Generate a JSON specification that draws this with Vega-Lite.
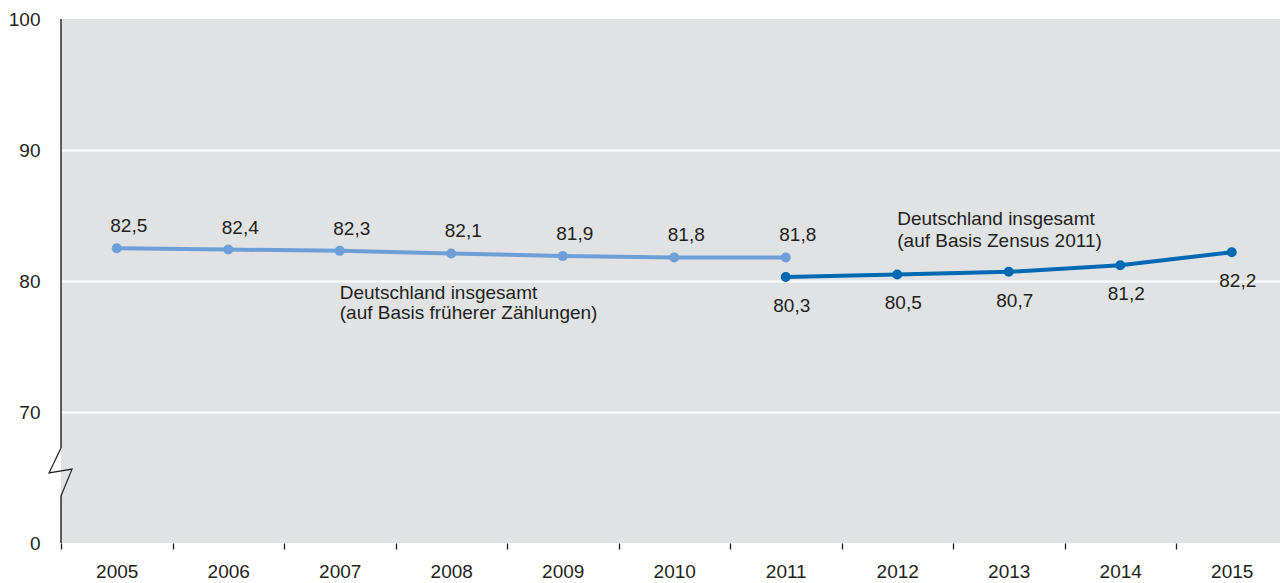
{
  "$schema": "https://vega.github.io/schema/vega-lite/v6.json",
  "width": 1219,
  "height": 524,
  "autosize": {"type": "none"},
  "padding": {"left": 61, "top": 19, "right": 0, "bottom": 40},
  "background": "white",
  "config": {
    "font": "Liberation Sans",
    "view": {"fill": "#e1e2e4", "stroke": null},
    "locale": {"number": {"decimal": ",", "thousands": ".", "grouping": [3], "currency": ["", " €"]}}
  },
  "datasets": {
    "pop": [
      {"year": "2005", "value": 82.5, "series": "frueher"},
      {"year": "2006", "value": 82.4, "series": "frueher"},
      {"year": "2007", "value": 82.3, "series": "frueher"},
      {"year": "2008", "value": 82.1, "series": "frueher"},
      {"year": "2009", "value": 81.9, "series": "frueher"},
      {"year": "2010", "value": 81.8, "series": "frueher"},
      {"year": "2011", "value": 81.8, "series": "frueher"},
      {"year": "2011", "value": 80.3, "series": "zensus"},
      {"year": "2012", "value": 80.5, "series": "zensus"},
      {"year": "2013", "value": 80.7, "series": "zensus"},
      {"year": "2014", "value": 81.2, "series": "zensus"},
      {"year": "2015", "value": 82.2, "series": "zensus"}
    ],
    "axisline": [
      {"year": "2005", "from": 60, "to": 63.6},
      {"year": "2005", "from": 67.25, "to": 100}
    ],
    "brk": [{"year": "2005", "value": 65.42}],
    "notes": [
      {"year": "2007", "value": 79.08, "text": "Deutschland insgesamt"},
      {"year": "2007", "value": 77.55, "text": "(auf Basis früherer Zählungen)"},
      {"year": "2012", "value": 84.73, "text": "Deutschland insgesamt"},
      {"year": "2012", "value": 83.05, "text": "(auf Basis Zensus 2011)"}
    ]
  },
  "encoding": {
    "x": {
      "field": "year",
      "type": "ordinal",
      "scale": {"domain": ["2005","2006","2007","2008","2009","2010","2011","2012","2013","2014","2015"], "range": [0, 1226.5], "paddingInner": 0, "paddingOuter": 0},
      "axis": {
        "title": null,
        "labelAngle": 0,
        "domain": false,
        "ticks": true,
        "tickBand": "extent",
        "tickSize": 6,
        "tickColor": "#231f20",
        "tickWidth": 1.3,
        "labelFontSize": 19,
        "labelColor": "#231f20",
        "labelPadding": 13,
        "grid": false
      }
    },
    "y": {
      "field": "value",
      "type": "quantitative",
      "scale": {"domain": [60, 100], "nice": false, "zero": false},
      "axis": {
        "title": null,
        "values": [60, 70, 80, 90, 100],
        "labelExpr": "datum.value == 60 ? '0' : datum.value",
        "domain": false,
        "ticks": false,
        "labelPadding": 21,
        "labelFontSize": 19,
        "labelColor": "#231f20",
        "grid": true,
        "gridColor": "white",
        "gridWidth": 2,
        "gridOpacity": {"condition": {"test": "datum.value == 60 || datum.value == 100", "value": 0}, "value": 1}
      }
    }
  },
  "layer": [
    {
      "data": {"name": "axisline"},
      "mark": {"type": "rule", "color": "#231f20", "strokeWidth": 1.4},
      "encoding": {
        "x": {"field": "year", "type": "ordinal", "bandPosition": 0},
        "y": {"field": "from", "type": "quantitative"},
        "y2": {"field": "to"}
      }
    },
    {
      "data": {"name": "brk"},
      "mark": {"type": "point", "shape": "M0,-1L-0.5,0.04L0.46,-0.12L0,1", "size": 2304, "filled": false, "stroke": "#231f20", "strokeWidth": 1.2, "opacity": 1},
      "encoding": {
        "x": {"field": "year", "type": "ordinal", "bandPosition": 0}
      }
    },
    {
      "data": {"name": "pop"},
      "mark": {"type": "line", "strokeWidth": 4},
      "encoding": {
        "color": {"field": "series", "type": "nominal", "scale": {"domain": ["frueher", "zensus"], "range": ["#6f9fd8", "#0069b4"]}, "legend": null}
      }
    },
    {
      "data": {"name": "pop"},
      "mark": {"type": "point", "filled": true, "size": 100, "opacity": 1},
      "encoding": {
        "color": {"field": "series", "type": "nominal", "legend": null}
      }
    },
    {
      "data": {"name": "pop"},
      "transform": [{"filter": "datum.series == 'frueher'"}],
      "mark": {"type": "text", "fontSize": 19, "color": "#231f20", "dy": -22, "dx": 12, "baseline": "middle"},
      "encoding": {"text": {"field": "value", "type": "quantitative", "format": ".1f"}}
    },
    {
      "data": {"name": "pop"},
      "transform": [{"filter": "datum.series == 'zensus'"}],
      "mark": {"type": "text", "fontSize": 19, "color": "#231f20", "dy": 29, "dx": 6, "baseline": "middle"},
      "encoding": {"text": {"field": "value", "type": "quantitative", "format": ".1f"}}
    },
    {
      "data": {"name": "notes"},
      "mark": {"type": "text", "fontSize": 19, "color": "#231f20", "align": "left", "baseline": "middle"},
      "encoding": {"text": {"field": "text", "type": "nominal"}}
    }
  ]
}
